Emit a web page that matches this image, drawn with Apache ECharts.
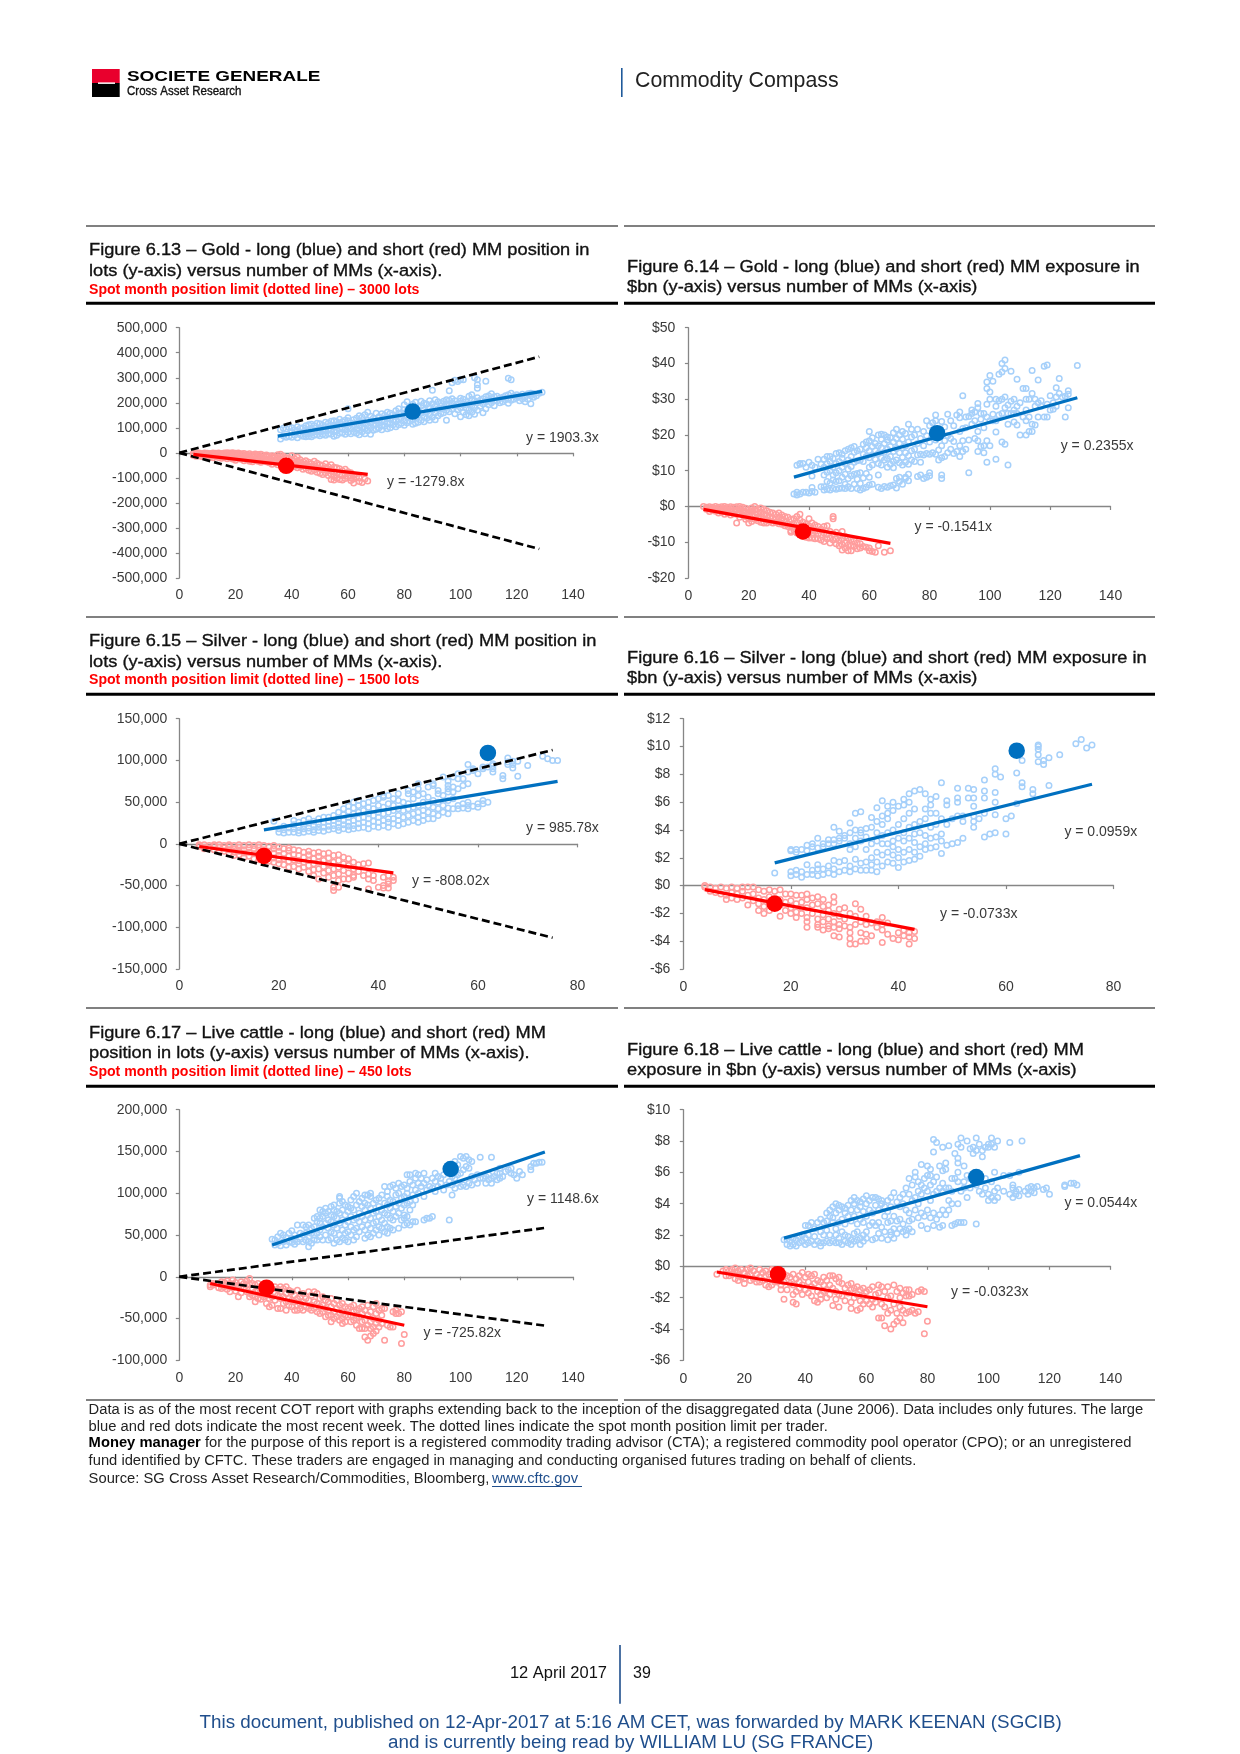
<!DOCTYPE html>
<html><head><meta charset="utf-8">
<style>html,body{margin:0;padding:0;background:#fff}#c{width:1240px;height:1754px}</style>
<script src="https://cdn.jsdelivr.net/npm/echarts@6/dist/echarts.min.js"></script>
</head><body><div id="c"></div>
<script>
// Each row: number of MMs, then the values read at that x. Lots are in thousands, exposure in $bn.
const goldLotsLong=[[36,55,92],[37,68,98],[38,62,95],[39,66,102],[40,62,84,100],[41,70,92],[42,60,88,104],[43,72,98],[44,66,82,100],[45,64,74,92,108],[46,66,76,88,112],[47,64,80,98,114],[48,70,84,108],[49,72,90,118],[50,68,82,100,116],[51,74,92,110],[52,70,86,104,122],[53,76,94,118],[54,74,90,110,126],[55,66,84,102,128],[56,70,88,112,124],[57,78,96,118,134],[58,80,100,124],[59,74,92,112,130],[60,82,104,128,140,176],[61,76,96,120],[62,84,108,132],[63,78,94,116,138],[64,72,90,110,126,148],[65,84,100,124,142],[66,76,96,118,152],[67,88,108,130,162],[68,74,100,122,146],[69,90,112,138],[70,94,114,128,158],[71,100,120,144],[72,92,108,130,156],[73,106,124,150],[74,96,116,140,162],[75,100,120,136,158],[76,112,130,152],[77,104,126,146,168],[78,112,134,158,176],[79,118,140,160],[80,110,128,150,172,192],[81,120,144,168,204],[82,126,152,180],[83,114,134,160,194],[84,118,146,172,202],[85,122,150,184],[86,130,158,188,206],[87,124,142,170,198],[88,138,164,194],[89,130,152,182,208],[90,142,170,196,250],[91,132,160,186,212],[92,148,176,204],[93,156,188,198],[94,160,182,206],[95,130,170,196,212],[96,164,190,210,248],[97,174,200,216,280],[98,156,186,208,290],[99,172,196,285],[100,144,180,206,218,292],[101,162,190,214,292],[102,152,178,204],[103,148,172,196,226],[104,162,188,214,232],[105,154,180,208,300],[106,170,200,220,258,272,292],[107,186,210],[108,160,196,216],[109,176,204,224,286],[110,192,212,228],[111,200,216,236],[112,188,208,224],[113,208,226],[114,200,218],[115,204,222],[116,212,228],[117,198,218,232,298],[118,210,238,292],[119,214,228],[120,220,232],[121,208,226],[122,216,234],[123,204,224],[124,214,236],[125,196,228,238],[126,222,236],[127,228],[128,238],[129,242]];
const goldLotsShort=[[5,-3,-10],[6,-2,-8,-14],[7,-1,-6,-12],[8,-3,-9,-15],[9,-1,-7,-13],[10,-2,-5,-11,-18],[11,-3,-8,-16],[12,-1,-6,-12,-20],[13,-2,-9,-15],[14,-1,-5,-11,-19],[15,-3,-8,-14,-22],[16,-1,-7,-13,-18],[17,0,-4,-10,-16,-24],[18,-1,-6,-12,-20],[19,0,-3,-9,-15,-25],[20,-2,-8,-14,-22,-30],[21,-1,-6,-11,-18],[22,-4,-10,-16,-26],[23,-3,-9,-20,-32],[24,-6,-12,-18,-28],[25,-4,-14,-22,-34],[26,-8,-16,-26,-36],[27,-5,-12,-24,-30],[28,-7,-14,-20,-34],[29,-6,-18,-28,-38],[30,-10,-22,-32],[31,-9,-16,-26,-36],[32,-14,-24,-40],[33,-12,-20,-30,-46],[34,-16,-28,-38],[35,-8,-22,-34,-48],[36,-6,-18,-30,-42],[37,-14,-26,-40,-52],[38,-20,-34,-46],[39,-22,-36,-50],[40,-12,-30,-44,-58],[41,-24,-40,-54],[42,-18,-34,-48,-60],[43,-28,-42,-56],[44,-36,-50,-66],[45,-32,-46,-62],[46,-38,-54,-70],[47,-44,-58,-74],[48,-34,-52,-68],[49,-42,-60,-78],[50,-48,-64,-82],[51,-52,-68,-86],[52,-44,-62,-80],[53,-56,-72,-90],[54,-48,-66,-84,-106],[55,-58,-76,-94,-108],[56,-60,-80,-100],[57,-64,-86,-106],[58,-72,-90,-108],[59,-66,-84,-102],[60,-76,-94],[61,-80,-100,-110],[62,-88,-104,-120],[63,-96],[64,-100,-114],[65,-118],[66,-104],[67,-112]];
const goldExpLong=[[35,3.5],[36,3.2,4,11.5],[37,3.5,11.8,12],[38,4,12],[39,4,11],[40,3.8,12.4],[41,4.2,8.5,5.3,11.5],[42,4,11],[43,13.2],[44,5.5,11.8],[45,4.6,5.5,8.8,13.2,11],[46,4.8,7,12,14,9.6],[47,4.6,6.6,10,12.6,14],[48,5,7.4,8.8,11,13.4],[49,4.8,7,9.4,12,14.8],[50,5,7.2,10,12.6,15],[51,5.2,8.2,11,13.5,14.6],[52,5,6.2,9,12,15.6],[53,5.5,7.8,10.4,13,16],[54,5,8.6,11.2,14,16.4],[55,6.2,9,12.4,15.2,16.8],[56,5,7.6,9.2,12.8,15.6],[57,4.6,6.4,9.4,13,16],[58,5,8,12.6,14.6,17.4],[59,5.4,9.2,14,16.4,18],[60,6,8.2,11,13.6,15.6,18.4,21],[61,6.2,11.6,14.4,16.8,19.2],[62,13.2,15.6,17.6],[63,5.4,8.8,12,14.8,17,20],[64,5,11.6,13.6,16.4,18.8,20.2],[65,5.6,13,15.2,17.6,20],[66,5.4,11,13.4,16,18.6,19.4],[67,5.8,11.8,14,16.8,19.2],[68,6,10.8,12.6,15.4,18,20.6],[69,5.2,7.8,13,16.2,19,21.6],[70,7,8.2,12.2,15,17.6,20],[71,6.2,11.6,13.8,16.4,18.8,21],[72,7.8,8.2,12.4,15,17,20.4],[73,7.2,9,11.8,14.2,18,23],[74,13,15.6,19.4,21.6],[75,12.6,16,20],[76,8.4,14.4,17.6,21.6],[77,8.8,12.4,14.6,19],[78,7.8,14.4,17,21],[79,8.2,14.8,19.8,24],[80,8.6,9.4,14.6,18,22.6],[81,15,20,23.4],[82,14.6,18.6,25.6,24],[83,13,15.8,21.4],[84,7.8,8.8,13.6,17,23.8],[85,14,18.4,22.2],[86,15,19.8,25.8],[87,16,19,24],[88,14.8,18.2,22.6],[89,15.4,25.6],[90,14,17,21,24.8,26.4],[91,15.4,18.4,21.8,31],[92,16,22,25],[93,9.4,18.6,25.2],[94,23,26,27],[95,19,24,26.4],[96,15.4,18.4,21,27.6,28.8],[97,16.8,24.4,26],[98,15,17,22,26],[99,12.4,18.4,25,28.6,33,34.8],[100,17,24,30,32,36.6],[101,24,25.8,35],[102,13.2,20.8,24,28,30],[103,25.6,29.6,37],[104,18,26,30,37.6,40],[105,17.4,27.6,30.6,38.6,41],[106,11.6,23,26,28.4],[107,26,29.4,37.8],[108,23.6,26,27,30],[109,22.8,26,28,35.6],[110,20,29],[111,25,33],[112,20,24,27,30,33],[113,21,25,30],[114,21,23,31.6,38],[115,22.8,28,30],[116,25,29,35.4],[117,28,29.6],[118,25,39.2],[119,25,28.6,39.6],[120,27,31],[121,27.2,29],[122,28,30.6,33.2],[123,31.6,35.8],[124,30.6],[125,25,30.8],[126,27.6,31.4,32.4],[129,39.4]];
const goldExpShort=[[5,0],[6,-0.2,-0.8],[7,-0.1,-0.7,-1.4],[8,-0.2,-1],[9,0,-0.6,-1.3],[10,-0.2,-1,-1.8],[11,-0.1,-0.8,-1.6],[12,0,-0.6,-1.4,-2.2],[13,-0.2,-1,-1.8],[14,-0.1,-0.8,-1.6,-2.4],[15,-0.2,-1.2,-2],[16,-0.1,-1,-2.2,-4.6],[17,0,-0.8,-1.8,-3],[18,-0.2,-1.2,-2.4],[19,-0.5,-1.6,-2.8,-3.6],[20,-1,-2,-3.4,-4.6],[21,-0.4,-1.4,-2.6,-4.2],[22,0,-1,-2.2,-3.6],[23,-0.8,-2,-3,-4],[24,-0.4,-1.6,-2.8,-4.4],[25,-0.8,-2.2,-3.4,-4.6],[26,-1.2,-2.6,-3.8,-4.6],[27,-1.6,-3,-4.2],[28,-1.8,-3.2,-4.6],[29,-2.2,-3.6,-4.4],[30,-1.8,-3,-4.2,-4.8],[31,-2.4,-3.6,-5],[32,-2.8,-4.4,-5.4],[33,-3,-4.8,-5.6],[34,-3.6,-5.2,-6.8,-7.2],[35,-3.4,-5,-6.6],[36,-2.8,-4.4,-6,-7.4],[37,-2.2,-3.8,-5.6,-7],[38,-4.4,-6.2,-8.4],[39,-5,-6.6,-8.6],[40,-3.4,-5.4,-7.2,-8.8],[41,-4.6,-6.4,-7.8,-8.8],[42,-5.2,-7,-9],[43,-5.6,-7.6,-9],[44,-6.4,-8,-9.4],[45,-5.6,-7.4,-9.8],[46,-5.4,-7.8,-9],[47,-7,-8.8,-10.2],[48,-2.8,-3.4,-7.6,-9.4],[49,-7.2,-9,-10.4],[50,-8,-9.6,-11],[51,-7,-9,-10.6,-12.2],[52,-8.4,-10.2,-11.6],[53,-8.8,-10.8,-12.4],[54,-9.2,-11,-12.4],[55,-9.6,-11.2],[56,-10.2,-11.8],[57,-10.4,-11.6],[58,-11.2],[59,-11.4],[60,-11.6,-12.4],[61,-12.6],[62,-12.8],[63,-11],[65,-12.8],[67,-12.4]];
const silverLotsLong=[[19,27],[20,14,18],[21,13,17,21],[22,14,19],[23,14,18,23,28],[24,13,16,20,26],[25,14,18,22,28],[26,15,19,25,30],[27,14,17,22,27],[28,16,20,24,30],[29,15,20,26,32],[30,17,21,27,32],[31,18,22,28,34],[32,16,20,25,30,38],[33,18,23,28,35,42],[34,17,21,26,32,39,45],[35,18,22,28,36,43,50],[36,19,24,30,38,46,52],[37,20,26,32,40,48],[38,18,24,30,36,44,50],[39,21,27,34,42,52],[40,20,26,32,38,46,54],[41,22,28,36,44,56,58],[42,20,26,30,38,48,58],[43,24,30,40,46,54],[44,22,28,34,42,52,60],[45,24,32,40,50],[46,26,34,42,48,60,64],[47,28,36,44,54,62],[48,26,32,38,46,58,66,72],[49,28,34,40,50,60],[50,30,38,46,56,68],[51,30,36,44,52,72,70],[52,34,42,50,60,64],[53,38,46,58,80],[54,36,43,52,62,66,70,75],[55,42,54,62,68,80],[56,42,46,66,78,84],[57,43,48,70,78],[58,42,46,50,72,86,95],[59,45,88,90],[60,44,48,84],[61,48,52,90,92],[62,50,92],[63,86,90,94,96],[65,78,82],[66,95,98,103],[67,91,95,99],[68,81,99],[70,94],[73,105],[74,102],[75,100],[76,100]];
const silverLotsShort=[[4,-1,-3],[5,-1,-4,-6],[6,-2,-5],[7,-1,-3,-7],[8,-1,-4,-8],[9,-2,-5,-9],[10,-1,-3,-7,-11],[11,-2,-6,-10,-14],[12,-1,-4,-9,-13],[13,-2,-7,-11,-16],[14,-1,-5,-10,-15],[15,-2,-6,-12,-18],[16,-1,-4,-8,-14,-19],[17,-2,-7,-13,-20],[18,-3,-9,-15,-21],[19,-2,-6,-11,-17,-22],[20,-4,-9,-14,-19,-24],[21,-6,-12,-18,-25],[22,-5,-8,-15,-21,-28],[23,-7,-13,-19,-27],[24,-8,-14,-20,-24,-30],[25,-10,-16,-22,-28],[26,-9,-13,-20,-26,-33],[27,-11,-18,-24,-31,-38],[28,-10,-15,-22,-30,-42],[29,-12,-20,-27,-35],[30,-11,-17,-24,-32,-40],[31,-14,-22,-30,-38,-52,-56],[32,-13,-20,-28,-36,-44,-52],[33,-16,-24,-32,-42],[34,-18,-26,-35,-42],[35,-22,-30,-38,-40],[36,-25,-33],[37,-24,-38],[38,-23,-36,-42,-54],[39,-38,-44],[40,-52],[41,-40,-50,-53],[42,-38,-45,-48,-53],[43,-40,-44]];
const silverExpLong=[[17,0.9],[20,0.7,1,2.5,2.6],[21,0.8,1.1,2.4,2.6],[22,0.6,1,2.6],[23,0.8,1.5,2.5,2.9],[24,0.8,1.1,2.8,3],[25,0.7,1.2,1.5,2.7,3.4],[26,0.8,1.2,2.8,3],[27,0.9,1.4,3,3.3],[28,0.8,1.2,1.8,3,3.3,4.2],[29,1,1.7,3.2,3.9,3.4],[30,1.1,1.8,3.4,3.6],[31,1,1.4,2.6,3,3.8,4.5],[32,1.2,1.9,2.8,3.4,4,5.2],[33,1.1,1.6,3.2,3.8,4,5.3],[34,1.1,1.7,2.6,3.5,4.1],[35,1.1,1.5,2,3,4.2,4.9],[36,1,1.7,2.4,3.2,3.8,5.6,4.6],[37,1.4,2.2,3,3.6,4.4,5,6.1],[38,1.7,2.4,3,3.8,4.8,5.2,5.7],[39,1.6,2.2,2.8,3.2,4,5.4,6],[40,1.3,2,2.6,3.4,4.4,5.7],[41,1.7,2.4,3.2,3.8,4.8,5.8,6.2],[42,1.8,2.6,3.4,4.2,5.2,6,6.6],[43,1.9,2.4,3.1,3.7,4.4,5.5,6.8],[44,2.1,2.8,3.8,4.6,6.9],[45,2.6,3,3.6,4.8,5.5,6.6],[46,2.7,3.4,4.2,5.2,5.8,6.2],[47,2.8,3.5,4.4,5.2,6.4],[48,2.3,3.2,3.7,4.8,7.4],[49,2.9,4.4,5.8,6.1],[50,3,4.8],[51,3.1,5,6,6.3,7],[52,3.4,4.6,5],[53,6.3,7],[54,4.2,4.6,5,5.7,6.3,6.9],[55,4.8],[56,3.5,5.2,6.3,6.8,7.6],[57,3.7],[58,3.8,5.1,6,6.7,8,8.4],[59,7.8],[60,3.7,4.8],[61,5],[62,5.9,8.1],[63,7.1,7.4,9],[65,6.6,6.9],[66,8.9,9.4,9.8,10,10.1],[67,8.7,9],[68,7.2,9.2],[70,9.4],[73,10.2],[74,10.5],[75,9.9],[76,10.1]];
const silverExpShort=[[4,0,-0.1],[5,-0.1,-0.4],[6,-0.2,-0.5],[7,-0.1,-0.6],[8,-0.2,-0.7,-1],[9,-0.1,-0.5,-0.9],[10,-0.2,-0.6,-1],[11,-0.1,-0.4,-0.9],[12,-0.1,-0.7,-1.4],[13,-0.1,-0.6,-1.1],[14,-0.3,-0.9,-1.3,-1.8],[15,-0.4,-1,-1.5,-2],[16,-0.3,-0.8,-1.3,-1.8],[17,-0.4,-0.9,-1.6],[18,-0.3,-1,-1.4,-2.2],[19,-0.6,-1.2,-1.8],[20,-0.6,-1.1,-1.6,-2],[21,-0.7,-1.3,-1.9,-2.3],[22,-0.7,-1.2,-1.6,-2],[23,-0.6,-1,-1.6,-2.3,-2.6,-3],[24,-0.9,-1.4,-2],[25,-0.8,-1.3,-2.4,-2.8,-3],[26,-1,-1.5,-2.1,-2.6,-3.2],[27,-1.4,-1.8,-2.4,-2.9,-3.1],[28,-0.8,-1.2,-2,-2.6,-3,-3.6],[29,-1.7,-2.2,-2.8,-3.1,-3.7],[30,-1.6,-2.4,-2.9],[31,-2,-3,-3.4,-3.8,-4.2],[32,-1.3,-2.2,-2.8,-4.2],[33,-1.7,-2.6,-3.4,-4],[34,-2.2,-2.8,-3.5,-4],[35,-2.7,-3.6],[36,-2.6,-3],[37,-2.3,-2.8,-3.2,-4.1],[38,-2.7,-3.5],[39,-3.8],[40,-3.4,-3.9],[41,-3.2,-3.6],[42,-4.2,-3.4,-3.7],[43,-3.8,-3.3]];
const cattleLotsLong=[[33,45],[34,38,44],[35,40,48],[36,37,52],[37,42,50],[38,38,47],[39,42,52],[40,41,46,55],[41,39,44,50],[42,42,62],[43,45,52],[44,42,50,62],[45,44,52,60],[46,36,42,48,62],[47,40,52,58],[48,44,50,60,70],[49,44,52,66,72],[50,48,56,64,80,70],[51,44,60,72,78],[52,50,64,76,82],[53,44,58,68,78],[54,46,54,66,74,84],[55,40,52,62,72,80,86],[56,44,58,70,78],[57,42,50,64,76,88,96,94],[58,46,56,68,80,90],[59,44,52,62,74,86],[60,42,54,66,78,84],[61,50,60,72,82,92],[62,44,56,68,80,96],[63,48,58,70,86,100],[64,54,66,76,90],[65,60,72,84,94],[66,46,56,68,80,88,98],[67,50,62,74,86,98],[68,48,58,70,82,96,100],[69,52,64,76,88],[70,56,66,78,92],[71,50,60,72,84,94],[72,58,68,80,98],[73,54,64,76,88,108],[74,52,60,74,86,96,102],[75,58,70,82,92,108],[76,56,68,78,90,110],[77,72,84,98,106],[78,58,76,88,100,112],[79,68,82,94,108],[80,62,70,74,86,96,110],[81,64,72,88,100,106,122],[82,62,80,90,114,122],[83,66,86,98,110],[84,66,92,104,118,124],[85,100,112,122],[86,108,118],[87,68,96,112,124],[88,70,104,116],[89,70,108],[90,72,106,118],[91,102,114,124],[92,108,120],[93,112,118],[94,104,122],[95,110,130],[96,68,114,126],[97,98,110,120],[98,106,118,138],[99,112,122,134],[100,108,124,144],[101,110,128,142],[102,108,132,144],[103,112,130,140],[104,110,120,138],[105,116],[106,112,122],[107,118,143],[108,118],[109,112,120],[110,116,122],[111,112,118,143],[112,120],[113,116,124],[114,118,124,130],[115,120],[116,126],[117,128],[118,124,130],[119,122],[120,118],[121,126],[122,122],[125,128,132],[126,136],[127,136],[128,137],[129,137]];
const cattleLotsShort=[[11,-10,-12],[12,-8,-10],[14,-8,-13],[15,-6,-10,-14],[16,-7,-12],[17,-5,-9,-15],[18,-8,-12,-18],[19,-4,-9,-13],[20,-7,-11,-17],[21,-10,-24],[22,-6,-12,-19],[23,-8,-14],[24,-5,-10,-18],[25,-2,-9,-20,-24],[26,-8,-14,-22],[27,-10,-18,-24,-30],[28,-8,-16,-26],[29,-12,-20,-27],[30,-10,-16,-24],[31,-14,-22,-32],[32,-11,-26,-36],[33,-14,-24,-34],[34,-12,-20,-28],[35,-15,-22,-38],[36,-12,-18,-26,-38],[37,-14,-24,-32],[38,-12,-20,-30,-40],[39,-16,-26,-34],[40,-18,-28,-36],[41,-22,-30,-40],[42,-16,-26,-34,-40],[43,-24,-32,-38],[44,-20,-30,-40],[45,-26,-36],[46,-18,-28,-38],[47,-22,-34,-40],[48,-18,-30,-38],[49,-20,-32,-42],[50,-26,-36,-44],[51,-24,-34,-42],[52,-28,-38,-48],[53,-30,-40,-46],[54,-26,-36,-46,-54],[55,-32,-42,-50],[56,-28,-38,-48],[57,-34,-44,-52],[58,-32,-42,-50,-56],[59,-36,-46,-54],[60,-38,-48],[61,-36,-46,-54],[62,-34,-42,-52],[63,-40,-50,-58],[64,-38,-48,-62],[65,-36,-44,-54,-62],[66,-40,-52,-62,-72],[67,-34,-46,-58,-76],[68,-42,-54,-62,-71],[69,-36,-50,-60,-68],[70,-32,-44,-56,-65],[71,-40,-52,-60],[72,-38,-46,-56],[73,-38,-76],[74,-58],[75,-60],[76,-42,-60],[77,-40,-44],[78,-44],[79,-42,-80],[80,-69]];
const cattleExpLong=[[33,1.7],[34,1.4,1.7],[35,1.3,1.6],[36,1.4,1.8],[37,1.3,1.7],[38,1.5,1.9],[39,1.6,2],[40,1.4,1.8,2.6],[41,1.5,2,2.6],[42,1.6,2.8],[43,1.4,1.9,2.4],[44,1.6,2.8],[45,1.3,1.5,2.2,3],[46,1.5,2,2.8],[47,1.6,2.3,3.4,2.9],[48,1.5,2,3.2,3.6],[49,1.6,2.8,3.1,3.8],[50,1.5,2,2.4,3.4,4],[51,1.5,1.8,2.8,3.6,3.9],[52,1.4,2.2,3,3.8],[53,1.6,2,2.7,3.4,3.7],[54,1.5,1.9,3.2,3.9],[55,1.4,1.7,2.9,3.6,4.2],[56,1.6,2.1,3.2,4,4.4],[57,1.7,2.2,2.7,3.6,4.2],[58,1.4,1.8,3,3.8,4.1],[59,1.6,2,2.8,3.5,4.3],[60,1.8,2.2,3.2,4,4.5],[61,2.6,3.6,4.2],[62,1.7,2.8,3.4,4.4],[63,1.8,2.6,3.9,4.4],[64,2.1,2.8,3.6,4.3],[65,1.8,2.5,4,4.2],[66,2.2,3.2,3.8],[67,1.7,2.8,3.5,4.2],[68,2,2.2,2.9,4.4,3.8],[69,1.8,2.4,3.2,4.7],[70,2.1,2.9,4.1],[71,2.4,3,3.8,4.4],[72,2.2,2.7,4,4.6],[73,2,2.3,3.6,5],[74,2.4,2.9,3.4,4.6,5.6],[75,2.2,3,4.2,5.2],[76,3.6,4.4,5.7,6],[77,3.1,4,4.8,5.4],[78,2.6,3.4,4.6,5.2,6.5],[79,3.2,5,5.6],[80,2.4,3.6,4.8,5.8,6.4],[81,3.1,4.2,5.2,5.8,6.2],[82,2.6,3.4,4.6,5.4,8.1,7.3],[83,3,4.8,5.7,7.9],[84,2.5,3.3,5,6.4],[85,2.6,3.6,4.8,5.3,6.1,7.6],[86,3.3,5,6.2,6.6],[87,3.6,4.2,5,7.7],[88,2.6,4,4.8,5.6],[89,2.7,5.6,7.2],[90,2.8,4,5.4,6,7.8,6.6,6.9],[91,2.8,4.8,8.2,7.6],[92,2.8,5,5.4,6.4],[93,4.4,5.8,8],[94,5,5.6,7.5],[95,5.8,7.2,7.6],[96,2.7,5.2,8.2,7.4],[97,4.8,5.5,7.8],[98,4.6,7,7.4],[99,5,5.6,7.6],[100,4.2,4.6,7.6,7.8],[101,4.4,5.4,8.2,7.8],[102,4.2,4.8,6,7.6],[103,4.4,5,8],[105,4.8,5.8],[107,4.6,7.9,5.8],[108,4.4,5,5.2],[109,4.6,4.8],[110,4.5,4.9,6],[111,8],[112,4.8],[113,4.6,5],[114,4.8,5.1],[115,5,4.7],[116,5.1],[118,4.9],[119,5],[120,4.6],[125,5.1,5.2],[127,5.3],[128,5.3],[129,5.2]];
const cattleExpShort=[[11,-0.5],[13,-0.3],[14,-0.6,-0.2],[15,-0.3,-0.6],[16,-0.2,-0.5],[17,-0.1,-0.4,-0.8],[18,-0.3,-0.6,-0.9],[19,-0.2,-0.7],[20,-0.4,-0.8,-1.1],[21,-0.2,-0.6],[22,-0.1,-0.5,-0.9],[23,-0.3,-0.8],[24,-0.5,-1],[25,-0.2,-0.7,-1],[26,-0.4,-0.9],[27,-0.3,-0.6,-1.2],[28,-0.5,-1.3],[29,-0.2,-0.8,-1.2],[30,-0.4,-1],[31,-0.6,-1],[32,-0.8,-1.2,-1.5],[33,-0.5,-1,-2.1],[34,-0.6,-1.5],[35,-0.7,-1.1],[36,-0.5,-1.2,-1.8,-2.3],[37,-0.8,-1.6,-2.4],[38,-0.6,-1,-1.4],[39,-0.4,-1.2,-1.8],[40,-0.7,-1.5],[41,-0.5,-1,-1.7],[42,-0.6,-1.3,-1.9],[43,-0.5,-1.1,-2.2],[44,-0.9,-1.6,-2.3],[45,-1,-1.8,-2.1],[46,-0.7,-1.2,-1.6],[47,-0.9,-1.5,-2],[48,-0.6,-1.2,-1.8],[49,-0.6,-1.4,-2.5],[50,-0.8,-1.6,-2.1],[51,-0.7,-1,-1.8,-2.6],[52,-1.1,-1.9],[53,-1.4,-2.2],[54,-1.2,-1.7],[55,-1.1,-1.5,-2.3,-2.7],[56,-1.4,-2],[57,-1.3,-1.8,-2.8],[58,-1.5,-2.2,-2.7],[59,-1.4,-1.9,-2.4],[60,-1.6,-2.2],[61,-1.5,-2.4],[62,-1.3,-2.1,-2.6],[63,-1.8,-2.3],[64,-1.2,-1.7,-3.3],[65,-1.3,-2.4,-3.3],[66,-1.6,-2.6,-3.8],[67,-1.3,-2,-3],[68,-1.9,-2.8,-4],[69,-1.2,-2.4,-3.7],[70,-1.6,-3,-3.5],[71,-1.4,-2,-2.6,-3.3],[72,-1.7,-2.8,-3.6],[73,-1.5,-1.9,-3],[74,-1.5,-1.9,-2.9],[75,-1.8,-2.8],[76,-3],[77,-1.6,-2.9],[78,-1.5],[79,-1.6,-4.3],[80,-3.5]];

// Trend lines, limit lines and latest-week dots, as [x, y] points.
const goldLotsTrendLong=[[35,66.6],[129,245.5]], goldLotsTrendShort=[[5,-6.4],[67,-85.7]];
const goldExpTrendLong=[[35,8.2],[129,30.4]], goldExpTrendShort=[[5,-0.8],[67,-10.3]];
const silverLotsTrendLong=[[17,16.8],[76,74.9]], silverLotsTrendShort=[[4,-3.2],[43,-34.7]];
const silverExpTrendLong=[[17,1.63],[76,7.29]], silverExpTrendShort=[[4,-0.29],[43,-3.15]];
const cattleLotsTrendLong=[[33,37.9],[130,149.3]], cattleLotsTrendShort=[[11,-8],[80,-58.1]];
const cattleExpTrendLong=[[33,1.8],[130,7.07]], cattleExpTrendShort=[[11,-0.36],[80,-2.58]];
const goldLimitUp=[[0,0],[128,384]], goldLimitDown=[[0,0],[128,-384]];
const silverLimitUp=[[0,0],[75,112.5]], silverLimitDown=[[0,0],[75,-112.5]];
const cattleLimitUp=[[0,0],[130,58.5]], cattleLimitDown=[[0,0],[130,-58.5]];
const goldLotsLatest=[[83,165],[38,-52]], goldExpLatest=[[82.5,20.5],[38,-7]];
const silverLotsLatest=[[62,109],[17,-14.5]], silverExpLatest=[[62,9.7],[17,-1.3]];
const cattleLotsLatest=[[96.5,129],[31,-13]], cattleExpLatest=[[96,5.7],[31,-0.5]];

const FONT='"Liberation Sans", Arial, sans-serif';
const panels=[
 {long:goldLotsLong,short:goldLotsShort,tl:goldLotsTrendLong,ts:goldLotsTrendShort,latest:goldLotsLatest,lim:[goldLimitUp,goldLimitDown],lots:true,ymin:-500,ymax:500,yi:100,xmax:140,box:[179.3,573,327.7,578],lm:12,xlm:10.5,
  title:['Figure 6.13 – Gold - long (blue) and short (red) MM position in','lots (y-axis) versus number of MMs (x-axis).'],red:'Spot month position limit (dotted line) – 3000 lots',tx:89,ty:[250,271,290],
  eq:[['y = 1903.3x',526,438],['y = -1279.8x',387,481.7]]},
 {long:goldExpLong,short:goldExpShort,tl:goldExpTrendLong,ts:goldExpTrendShort,latest:goldExpLatest,lots:false,ymin:-20,ymax:50,yi:10,xmax:140,box:[688.4,1110.5,327.7,578],lm:13,xlm:11.5,
  title:['Figure 6.14 – Gold - long (blue) and short (red) MM exposure in','$bn (y-axis) versus number of MMs (x-axis)'],tx:627,ty:[267.5,287.5],
  eq:[['y = 0.2355x',1060.7,445.7],['y = -0.1541x',914.5,527.3]]},
 {long:silverLotsLong,short:silverLotsShort,tl:silverLotsTrendLong,ts:silverLotsTrendShort,latest:silverLotsLatest,lim:[silverLimitUp,silverLimitDown],lots:true,ymin:-150,ymax:150,yi:50,xmax:80,box:[179.3,577.5,718.7,969],lm:12,xlm:10.5,
  title:['Figure 6.15 – Silver - long (blue) and short (red) MM position in','lots (y-axis) versus number of MMs (x-axis).'],red:'Spot month position limit (dotted line) – 1500 lots',tx:89,ty:[641.5,662.5,680.5],
  eq:[['y = 985.78x',526,828.3],['y = -808.02x',412,880.7]]},
 {long:silverExpLong,short:silverExpShort,tl:silverExpTrendLong,ts:silverExpTrendShort,latest:silverExpLatest,lots:false,ymin:-6,ymax:12,yi:2,xmax:80,box:[683.3,1113.5,718.7,969],lm:13,xlm:11,
  title:['Figure 6.16 – Silver - long (blue) and short (red) MM exposure in','$bn (y-axis) versus number of MMs (x-axis)'],tx:627,ty:[658.5,678.5],
  eq:[['y = 0.0959x',1064.4,832.3],['y = -0.0733x',940,914.3]]},
 {long:cattleLotsLong,short:cattleLotsShort,tl:cattleLotsTrendLong,ts:cattleLotsTrendShort,latest:cattleLotsLatest,lim:[cattleLimitUp,cattleLimitDown],lots:true,ymin:-100,ymax:200,yi:50,xmax:140,box:[179.3,573,1109.7,1360.3],lm:12,xlm:10.5,
  title:['Figure 6.17 – Live cattle - long (blue) and short (red) MM','position in lots (y-axis) versus number of MMs (x-axis).'],red:'Spot month position limit (dotted line) – 450 lots',tx:89,ty:[1032.8,1053.5,1072.5],
  eq:[['y = 1148.6x',527,1199.3],['y = -725.82x',423.6,1333.3]]},
 {long:cattleExpLong,short:cattleExpShort,tl:cattleExpTrendLong,ts:cattleExpTrendShort,latest:cattleExpLatest,lots:false,ymin:-6,ymax:10,yi:2,xmax:140,box:[683.3,1110.5,1109.7,1360.3],lm:13,xlm:11.5,
  title:['Figure 6.18 – Live cattle - long (blue) and short (red) MM','exposure in $bn (y-axis) versus number of MMs (x-axis)'],tx:627,ty:[1049.8,1070.5],
  eq:[['y = 0.0544x',1064.4,1203.3],['y = -0.0323x',951,1291.7]]}
];
const expand=rows=>rows.flatMap(r=>r.slice(1).map(y=>[r[0],y]));
const AXIS='#868686', LABEL='#3a3a3a', FS=14;
const grid=[],xAxis=[],yAxis=[],series=[],graphic=[];
const text=(t,x,y,size,opt={})=>graphic.push({type:'text',x,y,scaleX:opt.scaleX||1,silent:true,z:10,style:{text:t,fill:opt.color||'#111',font:`${opt.weight||'normal'} ${size}px ${FONT}`,textVerticalAlign:'middle',textAlign:opt.align||'left',stroke:opt.stroke,lineWidth:opt.stroke?0.35:0}});
const rect=(x,y,w,h,color)=>graphic.push({type:'rect',silent:true,z:9,shape:{x,y,width:w,height:h},style:{fill:color}});
const scatter=(d,c,i)=>({type:'scatter',xAxisIndex:2*i,yAxisIndex:i,data:expand(d),symbol:'circle',symbolSize:5.5,silent:true,animation:false,z:2,itemStyle:{color:'rgba(255,255,255,0)',borderColor:c,borderWidth:1.5,opacity:1}});
const line=(d,c,w,dash,i,z)=>({type:'line',xAxisIndex:2*i,yAxisIndex:i,data:d,symbol:'none',silent:true,animation:false,z,clip:false,lineStyle:{color:c,width:w,type:dash||'solid',cap:'butt'}});
const dot=(p,c,i)=>({type:'scatter',xAxisIndex:2*i,yAxisIndex:i,data:[p],symbol:'circle',symbolSize:16.5,silent:true,animation:false,z:6,itemStyle:{color:c,opacity:1}});

panels.forEach((p,i)=>{
  const [l,r,t,b]=p.box;
  grid.push({left:l,top:t,width:r-l,height:b-t,containLabel:false,show:false});
  xAxis.push({gridIndex:i,type:'value',min:0,max:p.xmax,interval:20,position:'bottom',axisLine:{show:true,onZero:true,lineStyle:{color:AXIS,width:1.3}},axisTick:{show:true,inside:false,length:3.5,lineStyle:{color:AXIS,width:1.2}},axisLabel:{show:false},splitLine:{show:false}});
  xAxis.push({gridIndex:i,type:'value',min:0,max:p.xmax,interval:20,position:'bottom',axisLine:{show:false,onZero:false},axisTick:{show:false},axisLabel:{show:true,margin:p.xlm,color:LABEL,fontFamily:FONT,fontSize:FS},splitLine:{show:false}});
  yAxis.push({gridIndex:i,type:'value',min:p.ymin,max:p.ymax,interval:p.yi,axisLine:{show:true,onZero:false,lineStyle:{color:AXIS,width:1.3}},axisTick:{show:true,length:3.5,lineStyle:{color:AXIS,width:1.2}},splitLine:{show:false},
    axisLabel:{margin:p.lm,color:LABEL,fontFamily:FONT,fontSize:FS,formatter:p.lots?(v=>(v*1000).toLocaleString('en-US')):(v=>(v<0?'-$':'$')+Math.abs(v))}});
  series.push(scatter(p.long,'#a6d0fa',i),scatter(p.short,'#ff9d9d',i));
  if(p.lim)p.lim.forEach(d=>series.push(line(d,'#000',2.7,[8,4],i,3)));
  series.push(line(p.tl,'#0070c0',3.2,null,i,4),line(p.ts,'#ff0000',3.2,null,i,4));
  series.push(dot(p.latest[0],'#0070c0',i),dot(p.latest[1],'#ff0000',i));
  p.title.forEach((s,k)=>text(s,p.tx,p.ty[k],17.4,{color:'#111',scaleX:1.048,stroke:'#111'}));
  if(p.red)text(p.red,p.tx,p.ty[2],14.1,{color:'#ff0000',weight:'bold'});
  p.eq.forEach(e=>text(e[0],e[1],e[2],FS,{color:LABEL}));
});

// Horizontal rules (left and right columns)
[226,617,1008,1400].forEach(y=>{rect(86,y-1,532,2,'#808080');rect(624,y-1,531,2,'#808080');});
[303.3,694.3,1086.3].forEach(y=>{rect(86,y-1.5,532,3,'#000');rect(624,y-1.5,531,3,'#000');});
// Header
rect(92,69,27.7,14,'#e9002d');rect(92,83,27.7,14,'#000');rect(98,82.4,17,1.5,'#fff');
text('SOCIETE GENERALE',127,76.5,15.5,{weight:'bold',color:'#000',scaleX:1.22});
text('Cross Asset Research',127,92,12.5,{color:'#111',scaleX:0.92,stroke:'#111'});
rect(621,68,1.6,29,'#1f5a9a');
text('Commodity Compass',635,81,21.3,{color:'#222'});
// Notes
const NOTE=14, NS=1.053;
text('Data is as of the most recent COT report with graphs extending back to the inception of the disaggregated data (June 2006). Data includes only futures. The large',88.6,1410,NOTE,{color:'#222',scaleX:NS});
text('blue and red dots indicate the most recent week. The dotted lines indicate the spot month position limit per trader.',88.6,1426.7,NOTE,{color:'#222',scaleX:NS});
graphic.push({type:'text',x:88.6,y:1443.5,scaleX:NS,silent:true,z:10,style:{text:'{b|Money manager} for the purpose of this report is a registered commodity trading advisor (CTA); a registered commodity pool operator (CPO); or an unregistered',fill:'#222',font:`${NOTE}px ${FONT}`,textVerticalAlign:'middle',rich:{b:{fontWeight:'bold',fontSize:NOTE,fontFamily:FONT,fill:'#000'}}}});
text('fund identified by CFTC. These traders are engaged in managing and conducting organised futures trading on behalf of clients.',88.6,1461,NOTE,{color:'#222',scaleX:NS});
text('Source: SG Cross Asset Research/Commodities, Bloomberg,',88.6,1479,NOTE,{color:'#222',scaleX:NS});
text('www.cftc.gov',492,1479,NOTE,{color:'#1f4e8c',scaleX:NS});
rect(492,1486,90,1,'#1f4e8c');
// Footer
text('12 April 2017',607,1674,16,{align:'right',color:'#111',scaleX:1.03});
text('39',633,1674,16,{color:'#111'});
rect(619.2,1645,1.6,58.7,'#1f4e8c');
text('This document, published on 12-Apr-2017 at 5:16 AM CET, was forwarded by MARK KEENAN (SGCIB)',630.7,1723,18.8,{align:'center',color:'#1f4e8c'});
text('and is currently being read by WILLIAM LU (SG FRANCE)',630.7,1743,18.8,{align:'center',color:'#1f4e8c'});

const chart=echarts.init(document.getElementById('c'),null,{renderer:'canvas',width:1240,height:1754});
chart.setOption({backgroundColor:'#fff',animation:false,tooltip:{show:false},grid,xAxis,yAxis,series,graphic});
</script></body></html>
